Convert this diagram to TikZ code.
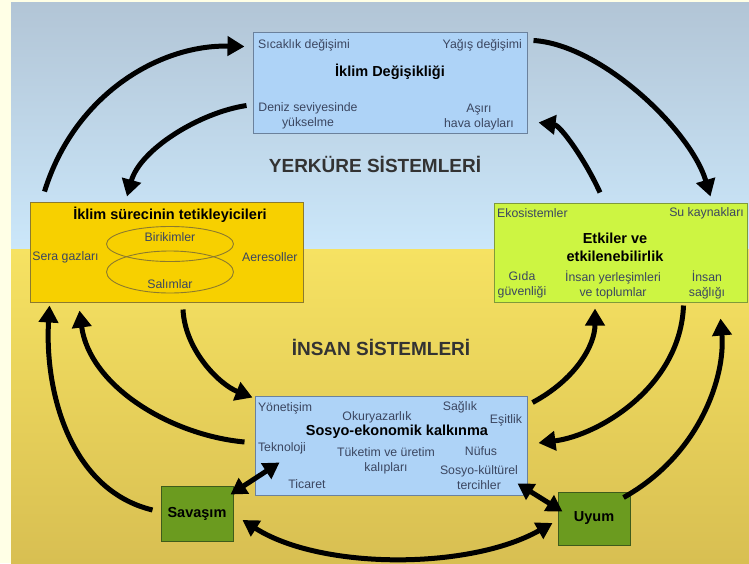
\documentclass[tikz,border=0pt]{standalone}
\usepackage{fontspec}
\setmainfont{Liberation Sans}
\usetikzlibrary{arrows.meta,positioning,calc}

\definecolor{skytop}{HTML}{B2C5D6}
\definecolor{skylow}{HTML}{CBE7FA}
\definecolor{groundtop}{HTML}{F6E262}
\definecolor{groundlow}{HTML}{D8BF52}
\definecolor{cream}{HTML}{FFFFE6}
\definecolor{lightblue}{HTML}{AED3F7}
\definecolor{bluedge}{HTML}{6B819C}
\definecolor{gold}{HTML}{F7D000}
\definecolor{goldedge}{HTML}{8C7A2E}
\definecolor{lime}{HTML}{CDF542}
\definecolor{limedge}{HTML}{7F9A3A}
\definecolor{leaf}{HTML}{6B9B1F}
\definecolor{leafedge}{HTML}{3E5B1B}
\definecolor{txt}{HTML}{3B4660}

\tikzset{
  box/.style={draw, line width=1pt, inner sep=0pt},
  small/.style={text=txt, font=\fontsize{12.3}{15}\selectfont, align=center, inner sep=0pt},
  bold/.style={font=\fontsize{14.5}{18}\selectfont\bfseries, align=center, inner sep=0pt},
  title/.style={font=\fontsize{19}{22}\selectfont\bfseries, text=black!80, inner sep=0pt},
  arr/.style={line width=5pt, -{Triangle[length=17pt,width=19pt]}},
  darr/.style={line width=5pt, {Triangle[length=16pt,width=18pt]}-{Triangle[length=16pt,width=18pt]}},
}

\begin{document}
\begin{tikzpicture}[x=1pt,y=-1pt]
  \useasboundingbox (0,0) rectangle (749,563);
  % background: sky and ground
  \fill[cream] (0,0) rectangle (749,563);
  \shade[top color=skytop, bottom color=skylow] (11,2) rectangle (749,249);
  \shade[top color=groundtop, bottom color=groundlow] (11,249) rectangle (749,563);

  \node[title] (yer) at (375,164) {YERKÜRE SİSTEMLERİ};
  \node[title] (ins) at (381,347) {İNSAN SİSTEMLERİ};

  % climate change
  \node[box, fill=lightblue, draw=bluedge, minimum width=274pt, minimum height=101pt] (ikl) at (390,82.5) {};
  \node[small, anchor=west] (sic) at (258,45) {Sıcaklık değişimi};
  \node[small, anchor=east] (yag) at (522,45) {Yağış değişimi};
  \node[bold] (iklt) at (390,72) {İklim Değişikliği};
  \node[small] (den) at (308,116) {Deniz seviyesinde\\yükselme};
  \node[small] (asi) at (479,117) {Aşırı\\hava olayları};

  % drivers
  \node[box, fill=gold, draw=goldedge, minimum width=273pt, minimum height=100pt] (tet) at (166.5,252) {};
  \node[bold] (tett) at (170,215) {İklim sürecinin tetikleyicileri};
  \draw[goldedge, line width=0.9pt] (170,244) ellipse (63.5 and 17.5);
  \draw[goldedge, line width=0.9pt] (170,272) ellipse (63.5 and 21);
  \node[small] (bir) at (170,237) {Birikimler};
  \node[small] (sal) at (170,284) {Salımlar};
  \node[small] (sera) at (65.5,257) {Sera gazları};
  \node[small, anchor=west] (aer) at (242,257) {Aeresoller};

  % impacts
  \node[box, fill=lime, draw=limedge, minimum width=253pt, minimum height=99pt] (etk) at (620.5,252.5) {};
  \node[small, anchor=west] (eko) at (497,213) {Ekosistemler};
  \node[small, anchor=east] (su) at (744,213) {Su kaynakları};
  \node[bold] (etkt) at (615,247) {Etkiler ve\\etkilenebilirlik};
  \node[small] (gida) at (522,285) {Gıda\\güvenliği};
  \node[small] (yerl) at (613,285) {İnsan yerleşimleri\\ve toplumlar};
  \node[small] (sag) at (707,285) {İnsan\\sağlığı};

  % socio-economic
  \node[box, fill=lightblue, draw=bluedge, minimum width=272pt, minimum height=99pt] (sos) at (391,445.5) {};
  \node[small] (yon) at (285,408) {Yönetişim};
  \node[small] (oku) at (377,417) {Okuryazarlık};
  \node[small] (sagl) at (460,407) {Sağlık};
  \node[small] (esi) at (506,420) {Eşitlik};
  \node[bold] (sost) at (397,432) {Sosyo-ekonomik kalkınma};
  \node[small] (tek) at (282,448) {Teknoloji};
  \node[small] (tuk) at (386,461) {Tüketim ve üretim\\kalıpları};
  \node[small] (nuf) at (481,451) {Nüfus};
  \node[small] (skt) at (479,478) {Sosyo-kültürel\\tercihler};
  \node[small] (tic) at (307,484) {Ticaret};

  \node[box, fill=leaf, draw=leafedge, minimum width=72pt, minimum height=55pt, bold] (sav) at (197,513.5) {Savaşım};
  \node[box, fill=leaf, draw=leafedge, minimum width=72pt, minimum height=53pt, bold] (uyum) at (594,518.5) {Uyum};

  % arrows
  \draw[arr] ($(tet.north west)+(15,-10)$) .. controls +(30,-97) and +(-85,-2) .. ($(ikl.north west)+(-8,15)$);
  \draw[arr] ($(ikl.south west)+(-6,-28)$) .. controls +(-47,7) and +(13,-47) .. ($(tet.north)+(-39.5,-5)$);
  \draw[arr] ($(ikl.north east)+(6,9)$) .. controls +(67,4) and +(-20,-67) .. ($(etk.north east)+(-37,-6)$);
  \draw[arr] ($(etk.north)+(-20.5,-10)$) .. controls +(-15,-33) and +(22,3) .. ($(ikl.south east)+(11,-11)$);
  \draw[arr] ($(tet.south)+(16.5,7)$) .. controls +(2,41) and +(-33,-13) .. ($(sos.north west)+(-2,2)$);
  \draw[arr] ($(sos.west)+(-10,-3.5)$) .. controls +(-75,-7) and +(10,75) .. ($(tet.south west)+(50,8)$);
  \draw[arr] ($(sav.west)+(-8,-3.5)$) .. controls +(-83,-20) and +(-5,85) .. ($(tet.south west)+(20,3)$);
  \draw[arr] ($(sos.north east)+(5,7)$) .. controls +(43,-23) and +(0,37) .. ($(etk.south)+(-25.5,6)$);
  \draw[arr] ($(etk.south east)+(-64,3)$) .. controls +(-3,80) and +(62,-8) .. ($(sos.east)+(11,-2.5)$);
  \draw[arr] ($(uyum.north east)+(-7,6)$) .. controls +(77,-43) and +(5,57) .. ($(etk.south east)+(-27,16)$);
  \draw[darr] ($(sav.north east)+(-3,9)$) -- ($(sos.south west)+(25,-33)$);
  \draw[darr] ($(sos.south east)+(-10,-12)$) -- ($(uyum.north west)+(5,20)$);
  \draw[darr] ($(sav.east)+(9,6.5)$) .. controls +(78,50) and +(-83,47) .. ($(uyum.west)+(-5,4.5)$);
\end{tikzpicture}
\end{document}
